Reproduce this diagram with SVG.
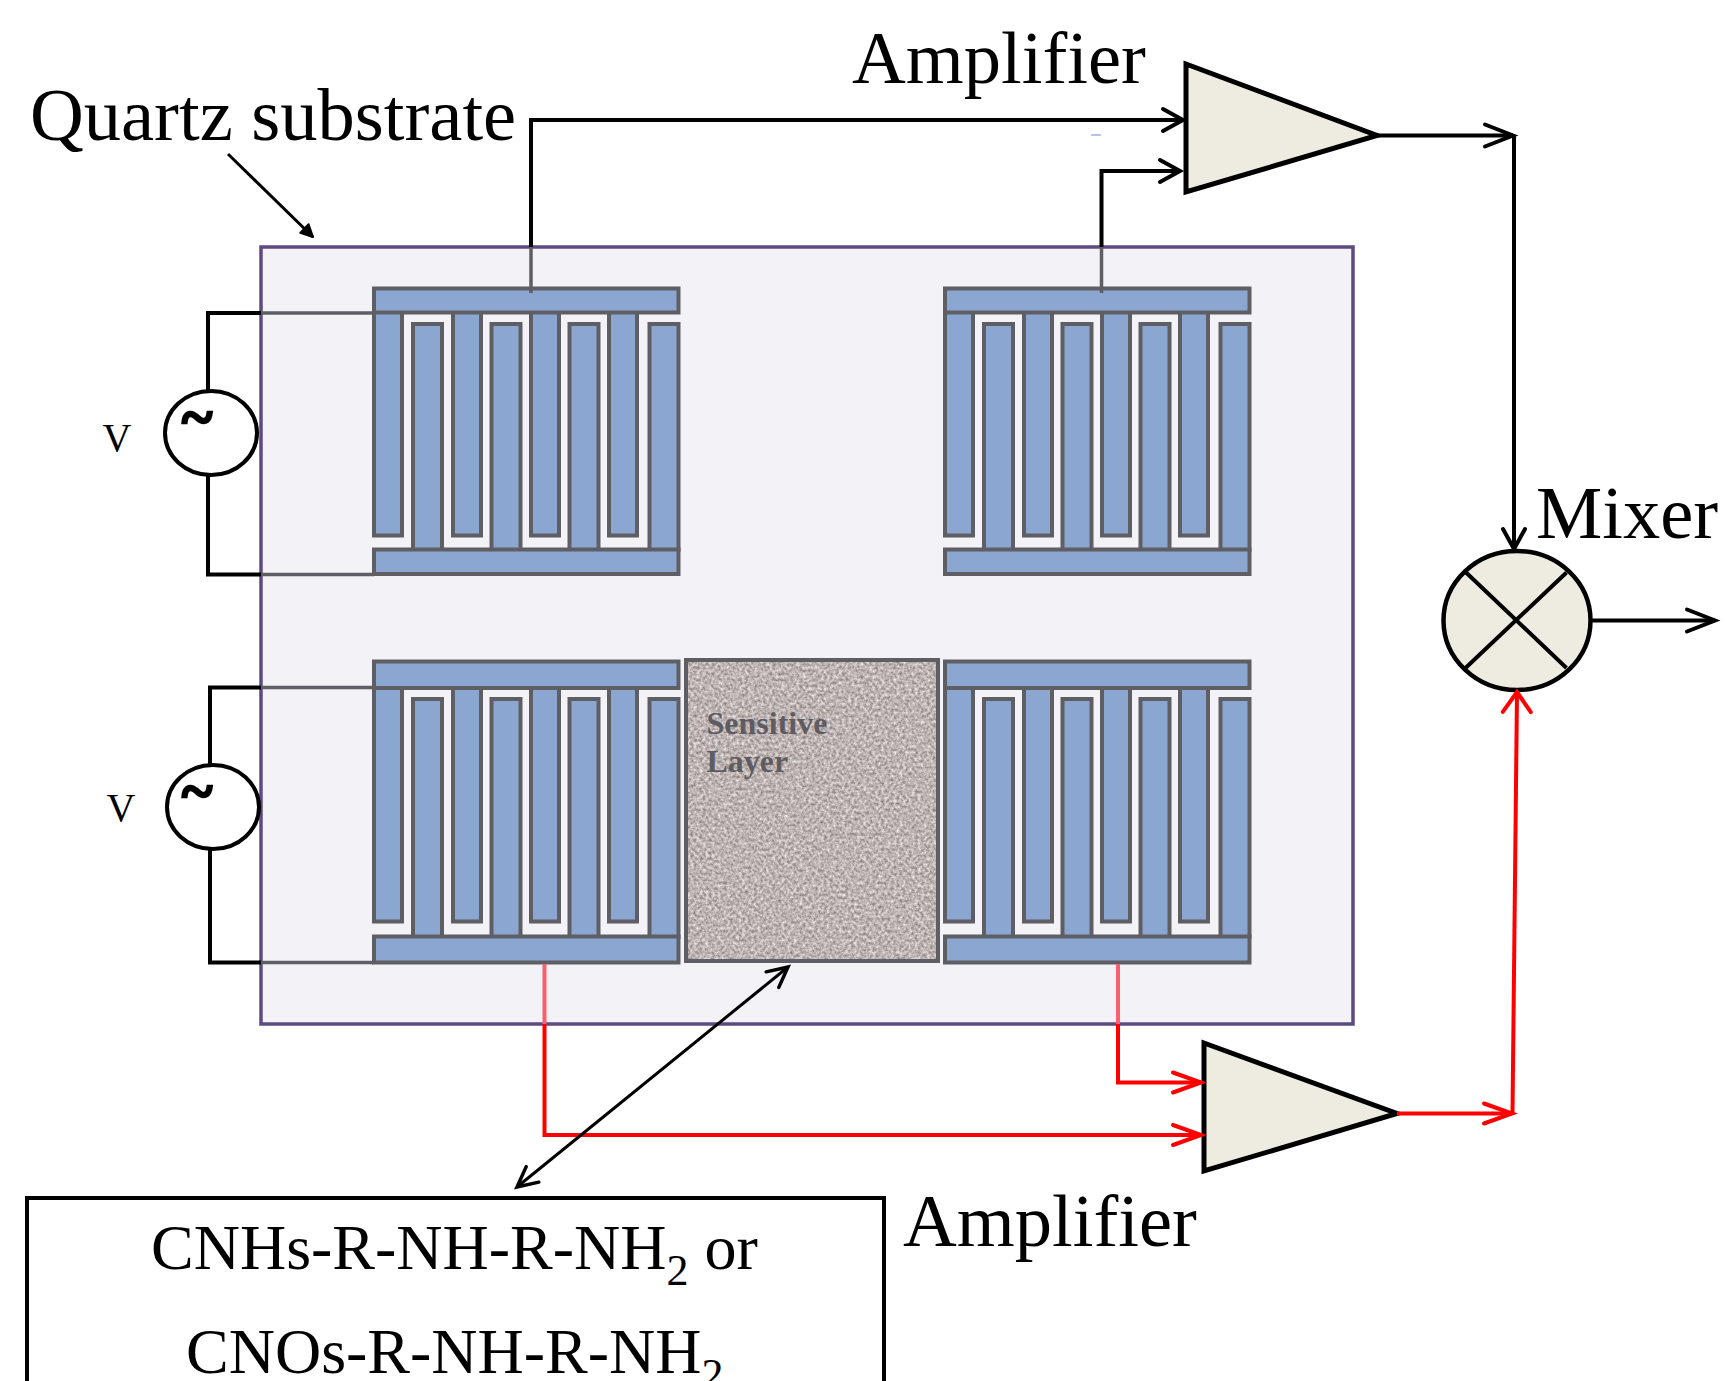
<svg xmlns="http://www.w3.org/2000/svg" width="1725" height="1381" viewBox="0 0 1725 1381">
<style>
.lbl{font-family:"Liberation Serif","Times New Roman",serif;font-size:74.5px;fill:#000}
.f{font-size:64px}
.v{font-size:40px}
.t{font-size:58px;font-weight:bold;stroke:#000;stroke-width:2.4px}
.s{font-family:"Liberation Serif",serif;font-size:32px;font-weight:bold;fill:#5e5c62}
.e{fill:#8ba6d0;stroke:#5f5e64;stroke-width:4}
.b{fill:none;stroke:#000;stroke-width:4}
.r{fill:none;stroke:#f00;stroke-width:4}
.g{fill:none;stroke:#5f5e64;stroke-width:3.5}
.p{fill:none;stroke:#f8606e;stroke-width:4}
.amp{fill:#eeece1;stroke:#000;stroke-width:5}
.hb{fill:none;stroke:#000;stroke-width:4;stroke-linecap:round}
.hr{fill:none;stroke:#f00;stroke-width:4;stroke-linecap:round}
</style>
<defs>
<marker id="bl" markerUnits="userSpaceOnUse" markerWidth="40" markerHeight="40" refX="30" refY="15" orient="auto" overflow="visible"><path class="hb" d="M2,4 L30,15 L2,26"/></marker>
<marker id="bs" markerUnits="userSpaceOnUse" markerWidth="40" markerHeight="40" refX="30" refY="15" orient="auto" overflow="visible"><path class="hb" d="M10,4 L30,15 L10,26"/></marker>
<marker id="rl" markerUnits="userSpaceOnUse" markerWidth="40" markerHeight="40" refX="30" refY="15" orient="auto" overflow="visible"><path class="hr" d="M2,5 L30,15 L2,25"/></marker>
<marker id="rs" markerUnits="userSpaceOnUse" markerWidth="40" markerHeight="40" refX="30" refY="15" orient="auto" overflow="visible"><path class="hr" d="M10,1 L30,15 L10,29"/></marker>
<marker id="as" markerUnits="userSpaceOnUse" markerWidth="40" markerHeight="40" refX="30" refY="15" orient="auto-start-reverse" overflow="visible"><path fill="none" stroke="#000" stroke-width="3.5" stroke-linecap="round" d="M10,5 L30,15 L10,25"/></marker>
<marker id="aq" markerUnits="userSpaceOnUse" markerWidth="40" markerHeight="40" refX="30" refY="15" orient="auto" overflow="visible"><path fill="#000" stroke="#000" stroke-width="2" stroke-linejoin="round" d="M18,9 L30,15 L18,21 Z"/></marker>
<filter id="noise" x="0" y="0" width="100%" height="100%" color-interpolation-filters="sRGB">
<feTurbulence type="fractalNoise" baseFrequency="0.33" numOctaves="3" seed="7"/>
<feColorMatrix type="matrix" values="0.6 0 0 0 0.44  0.6 0 0 0 0.405  0.6 0 0 0 0.40  0 0 0 0 1"/>
</filter>
<g id="idt-a">
<rect class="e" x="374" y="312" width="28" height="223.500"/>
<rect class="e" x="453" y="312" width="28" height="223.500"/>
<rect class="e" x="531" y="312" width="28" height="223.500"/>
<rect class="e" x="609" y="312" width="28" height="223.500"/>
<rect class="e" x="413" y="324" width="29" height="226"/>
<rect class="e" x="491.500" y="324" width="29" height="226"/>
<rect class="e" x="569.500" y="324" width="29" height="226"/>
<rect class="e" x="649.500" y="324" width="29" height="226"/>
<rect class="e" x="374" y="288.500" width="304.500" height="24"/>
<rect class="e" x="374" y="549.500" width="304.500" height="24.500"/>
</g>
<g id="idt-b">
<rect class="e" x="374" y="687" width="28" height="234.500"/>
<rect class="e" x="453" y="687" width="28" height="234.500"/>
<rect class="e" x="531" y="687" width="28" height="234.500"/>
<rect class="e" x="609" y="687" width="28" height="234.500"/>
<rect class="e" x="413" y="699" width="29" height="238"/>
<rect class="e" x="491.500" y="699" width="29" height="238"/>
<rect class="e" x="569.500" y="699" width="29" height="238"/>
<rect class="e" x="649.500" y="699" width="29" height="238"/>
<rect class="e" x="374" y="661.500" width="304.500" height="26.500"/>
<rect class="e" x="374" y="936.500" width="304.500" height="26"/>
</g>
</defs>
<rect width="1725" height="1381" fill="#fff"/>
<g id="substrate"><rect x="261" y="247" width="1092" height="777" fill="#f3f2f7" stroke="#5d4a82" stroke-width="3.500"/></g>
<g id="idt-top-left"><use href="#idt-a"/></g>
<g id="idt-top-right"><use href="#idt-a" x="571"/></g>
<g id="idt-bottom-left"><use href="#idt-b"/></g>
<g id="idt-bottom-right"><use href="#idt-b" x="571"/></g>
<g id="sensitive-layer">
<rect x="686" y="660" width="252" height="301" fill="#b9afae" filter="url(#noise)"/>
<rect x="686" y="660" width="252" height="301" fill="none" stroke="#5f5e64" stroke-width="4"/>
<text class="s" x="706.500" y="734">Sensitive</text>
<text class="s" x="706.500" y="772">Layer</text>
</g>
<g id="source-top">
<ellipse cx="211" cy="433" rx="46" ry="42" fill="#fff" stroke="#000" stroke-width="4"/>
<text class="lbl t" x="182" y="436">~</text>
<text class="lbl v" x="102.500" y="450.500">V</text>
</g>
<g id="source-bottom">
<ellipse cx="213" cy="807" rx="46" ry="42" fill="#fff" stroke="#000" stroke-width="4"/>
<text class="lbl t" x="182" y="810">~</text>
<text class="lbl v" x="106.500" y="821">V</text>
</g>
<g id="amplifier-top">
<polygon class="amp" points="1186,64 1377,135.500 1186,192"/>
<text class="lbl" x="852" y="83">Amplifier</text>
</g>
<g id="amplifier-bottom">
<polygon class="amp" points="1204,1043 1397,1113.500 1204,1171"/>
<text class="lbl" x="903" y="1246">Amplifier</text>
</g>
<g id="mixer">
<ellipse cx="1517" cy="620.500" rx="73.500" ry="69.500" fill="#eeece1" stroke="#000" stroke-width="4.500"/>
<path d="M1465,571.500 L1566.500,668 M1566.500,572.500 L1465.500,668" fill="none" stroke="#000" stroke-width="4"/>
<text class="lbl" x="1536" y="538">Mixer</text>
</g>
<g id="quartz-label"><text class="lbl" x="30" y="140">Quartz substrate</text></g>
<g id="chem-box">
<path d="M27,1381 V1198 H884 V1381" fill="#fff" stroke="#000" stroke-width="4"/>
<text class="lbl f" x="151" y="1269">CNHs-R-NH-R-NH<tspan font-size="44" dy="16">2</tspan><tspan dy="-16"> or</tspan></text>
<text class="lbl f" x="186" y="1373">CNOs-R-NH-R-NH<tspan font-size="44" dy="16">2</tspan></text>
</g>
<g id="connectors">
<path class="g" d="M531,247 V293"/>
<path class="g" d="M1101.500,247 V293"/>
<path class="g" d="M261,313 H374 M261,574.500 H374 M261,687.500 H374 M261,962.500 H374"/>
<path class="p" d="M544.500,964 V1024 M1118,964 V1024"/>
<path class="b" d="M208,391 V313 H261 M208,475 V574.500 H261"/>
<path class="b" d="M210,765 V687.500 H261 M210,849 V962.500 H261"/>
<path class="b" marker-end="url(#bs)" d="M531,247 V120 H1183"/>
<path class="b" marker-end="url(#bs)" d="M1101.500,247 V171 H1180"/>
<path class="b" marker-end="url(#bl)" d="M1377,135.500 H1513"/>
<path class="b" marker-end="url(#bs)" d="M1514,135.500 V549"/>
<path class="b" marker-end="url(#bl)" d="M1592,620.500 H1715"/>
<path class="r" marker-end="url(#rl)" d="M544.500,1024 V1135 H1201"/>
<path class="r" marker-end="url(#rl)" d="M1118,1024 V1082.500 H1201"/>
<path class="r" marker-end="url(#rl)" d="M1397,1113.500 H1512"/>
<path class="r" marker-end="url(#rs)" d="M1512.500,1113.500 L1517,692"/>
<path fill="none" stroke="#000" stroke-width="3" marker-end="url(#aq)" d="M228,154 L313,237"/>
<path fill="none" stroke="#000" stroke-width="3" marker-start="url(#as)" marker-end="url(#as)" d="M788,967 L517,1187"/>
<path d="M1091,135 H1101" fill="none" stroke="#9ab5dd" stroke-width="1.500"/>
</g>
</svg>
